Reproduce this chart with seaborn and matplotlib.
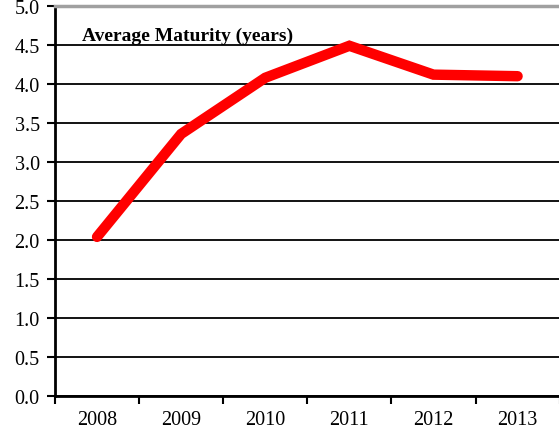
import pandas as pd
import matplotlib.pyplot as plt
import seaborn as sns
from matplotlib.ticker import FixedLocator, MultipleLocator

years = ["2008", "2009", "2010", "2011", "2012", "2013"]
maturity = [2.04, 3.36, 4.08, 4.49, 4.12, 4.10]

df = pd.DataFrame({"Year": years, "Maturity": maturity})
df["pos"] = range(len(years))

sns.set_style("white")
plt.rcParams["font.family"] = ["Liberation Serif", "DejaVu Serif"]
plt.rcParams["text.color"] = "black"
plt.rcParams["xtick.color"] = "black"
plt.rcParams["ytick.color"] = "black"

fig = plt.figure(figsize=(5.59, 4.35), dpi=100)
ax = fig.add_axes([55 / 559, 38 / 435, 508 / 559, 390 / 435])

sns.lineplot(data=df, x="pos", y="Maturity", color="#ff0000", linewidth=7.5,
             solid_capstyle="round", solid_joinstyle="miter", ax=ax, zorder=3)

ax.set_ylim(0, 5.0)
ax.set_xlim(-0.5, 5.54)
ax.yaxis.set_major_locator(MultipleLocator(0.5))
ax.set_yticklabels([f"{v:.1f}" for v in ax.get_yticks()])
ax.grid(axis="y", color="black", linewidth=1.3)
ax.set_axisbelow(True)

# category labels centered, tick marks on the boundaries
ax.xaxis.set_major_locator(FixedLocator(range(len(years))))
ax.set_xticklabels(years)
ax.xaxis.set_minor_locator(FixedLocator([i - 0.5 for i in range(len(years) + 1)]))
ax.tick_params(axis="x", which="major", bottom=True, length=0, pad=10, labelsize=14.5)
ax.tick_params(axis="x", which="minor", bottom=True, length=6, width=1.5, color="black", direction="out")
ax.tick_params(axis="y", left=True, length=6, width=1.5, color="black", direction="out", labelsize=14.5, pad=5)

ax.set_xlabel("")
ax.set_ylabel("")

for side in ["left", "bottom"]:
    ax.spines[side].set_color("black")
    ax.spines[side].set_linewidth(2)
ax.spines["top"].set_color("#a0a0a0")
ax.spines["top"].set_linewidth(2.5)
ax.spines["right"].set_visible(False)

ax.text(0.054, 0.925, "Average Maturity (years)", transform=ax.transAxes,
        fontsize=14, fontweight="bold", color="black", ha="left", va="center")

plt.savefig("out.png", dpi=100)
